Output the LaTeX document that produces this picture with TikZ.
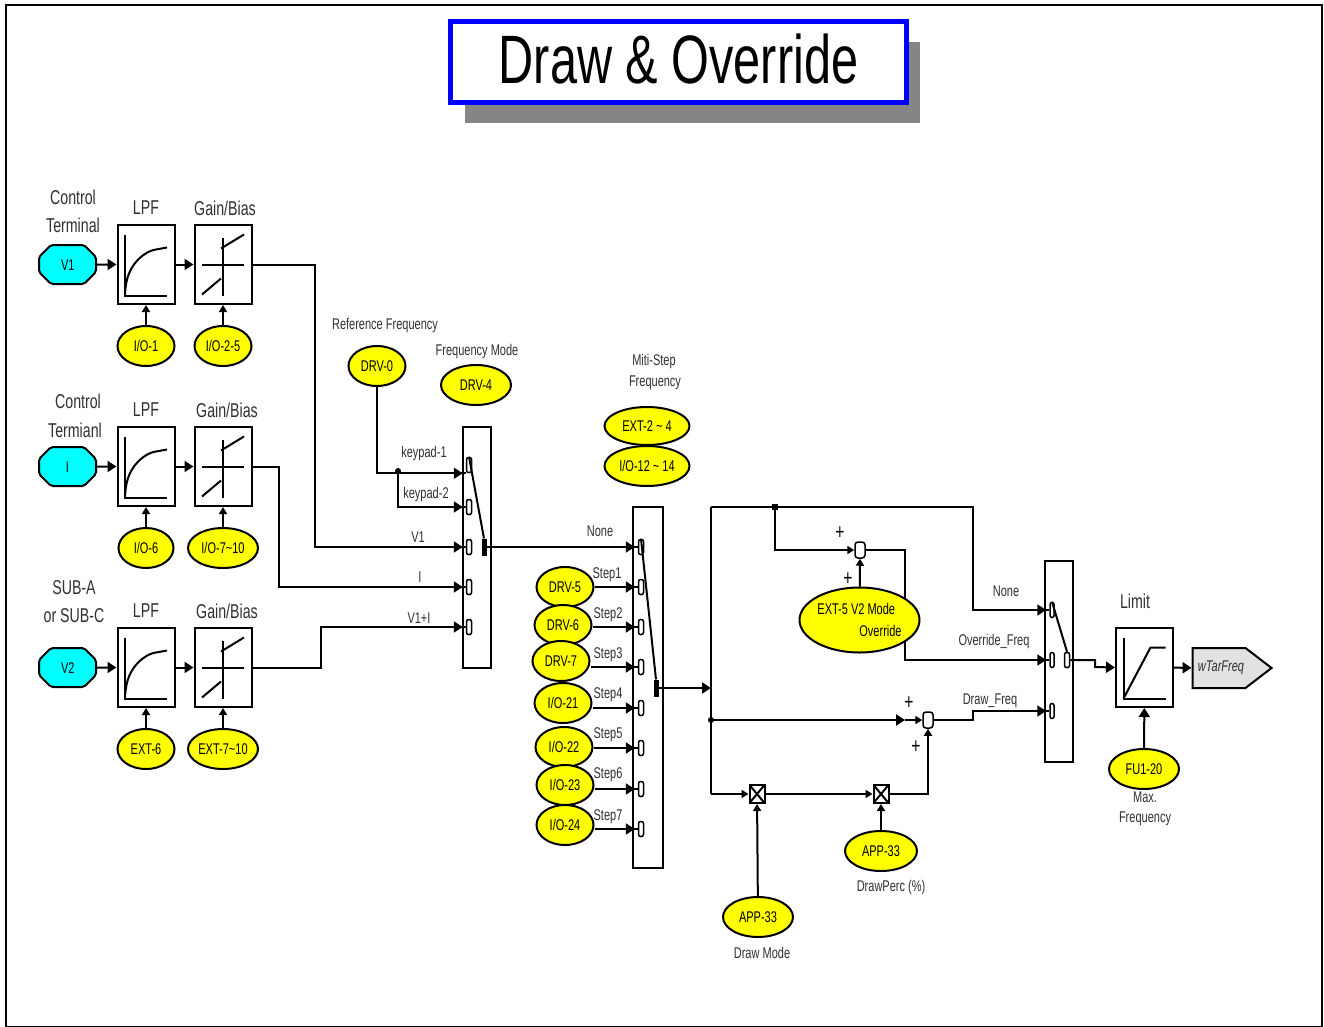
\documentclass[tikz,border=0pt]{standalone}
\usepackage{fontspec}
\setmainfont[FakeStretch=0.71]{Liberation Sans}
\usetikzlibrary{positioning,calc,arrows.meta,shapes.geometric,shapes.misc,shapes.symbols,decorations.markings}
\definecolor{titleBlue}{HTML}{0000FF}
\definecolor{shadowGray}{HTML}{858585}
\definecolor{paramYel}{HTML}{FFFF00}
\definecolor{termCyan}{HTML}{00FFFF}
\definecolor{outGray}{HTML}{E2E2E2}
\definecolor{capGray}{HTML}{303030}

\begin{document}
\begin{tikzpicture}[
    x=1pt, y=-1pt,
    line width=2pt,
    node distance=20pt and 20pt,
    txt/.style={font=\fontsize{15.5}{18}\selectfont},
    caption/.style={text=capGray, inner sep=0pt, font=\fontsize{15.5}{18}\selectfont},
    bigcaption/.style={caption, font=\fontsize{20}{22}\selectfont},
    ctrlbox/.style={rectangle, draw, minimum width=57pt, minimum height=79pt, inner sep=0pt},
    switchbox/.style={rectangle, draw, minimum width=28pt, inner sep=0pt},
    param/.style={ellipse, draw, fill=paramYel, inner sep=0pt, minimum width=57pt,
      minimum height=40pt, txt},
    terminal/.style={chamfered rectangle, chamfered rectangle xsep=8pt, chamfered rectangle ysep=8pt,
      draw, fill=termCyan, rounded corners=2pt, inner sep=0pt, minimum width=57pt, minimum height=39pt,
      text width=13pt, text height=11pt, text depth=0pt, align=center, txt},
    contact/.style={rectangle, draw, fill=white, rounded corners=2pt, inner sep=0pt,
      minimum width=5pt, minimum height=15pt, line width=1.5pt},
    throw/.style={rectangle, draw, fill=black, inner sep=0pt, minimum width=3pt, minimum height=15pt},
    sumnode/.style={rectangle, draw, fill=white, rounded corners=3pt, inner sep=0pt,
      minimum width=10pt, minimum height=16pt, line width=1.5pt},
    mulbox/.style={rectangle, draw, fill=white, inner sep=0pt, minimum width=15pt, minimum height=18pt,
      path picture={\draw (path picture bounding box.north west) -- (path picture bounding box.south east)
        (path picture bounding box.north east) -- (path picture bounding box.south west);}},
    dotnode/.style={circle, fill=black, inner sep=0pt, minimum size=6pt},
    plus/.style={inner sep=0pt, font=\fontsize{22}{22}\selectfont},
    arr/.style={-{Triangle[length=9pt,width=11pt]}},
    arrsmall/.style={-{Triangle[length=7pt,width=8pt]}},
    arrin/.style={postaction={decorate}, decoration={markings,
      mark=at position -3pt with {\arrow{Triangle[length=9pt,width=11pt]}}}},
    arm/.style={line width=2pt},
    lpfcurve/.pic={
      \draw (-21,-30) -- (-21,31) -- (21,31);
      \draw (-21,29) .. controls (-20,16) and (-18,10) .. (-14,3)
        .. controls (-8,-7) and (2,-14) .. (10,-15) -- (21,-17);
    },
    gaincurve/.pic={
      \draw (-21,0) -- (21,0) (0,-27) -- (0,31);
      \draw (-2,-16) -- (21,-30) (-21,30) -- (-2,14);
    },
    limitcurve/.pic={
      \draw (-21,-30) -- (-21,31) -- (21,31);
      \draw (-21,31) -- (6,-20) -- (21,-20);
    },
  ]
\useasboundingbox (0,0) rectangle (1324,1027);

% Frame and title
\node[rectangle, draw, minimum width=1316pt, minimum height=1022pt, inner sep=0pt] (frame) at (664,516) {};
\node[rectangle, fill=shadowGray, minimum width=455pt, minimum height=81pt, inner sep=0pt] (titleshadow) at (692.5,82.5) {};
\node[rectangle, draw=titleBlue, line width=5pt, fill=white, minimum width=456pt, minimum height=81pt,
      inner sep=0pt, font=\fontsize{68.5}{70}\selectfont] (title) at (678.5,62.5) {\raisebox{7pt}{Draw \& Override}};

% Input 1
\node[terminal] (v1) at (67.5,264.5) {V1};
\node[ctrlbox] (lpf1) at (146,264.5) {};
\node[ctrlbox, right=18pt of lpf1] (gain1) {};
\node[param, below=20pt of lpf1] (io1) {I/O-1};
\node[param, below=20pt of gain1] (io25) {I/O-2-5};
\pic at (lpf1) {lpfcurve};
\pic at (gain1) {gaincurve};
\node[bigcaption] (t11) at (73,197) {Control};
\node[bigcaption] (t12) at (73,225) {Terminal};
\node[bigcaption] (l1) at (146,208) {LPF};
\node[bigcaption] (g1) at (225,208) {Gain/Bias};

% Input 2
\node[terminal] (i) at (67.5,466.5) {I};
\node[ctrlbox] (lpf2) at (146,466.5) {};
\node[ctrlbox, right=18pt of lpf2] (gain2) {};
\node[param, below=20pt of lpf2, minimum width=55pt] (io6) {I/O-6};
\node[param, below=20pt of gain2, minimum width=70pt] (io710) {I/O-7\textasciitilde10};
\pic at (lpf2) {lpfcurve};
\pic at (gain2) {gaincurve};
\node[bigcaption] (t21) at (78,401) {Control};
\node[bigcaption] (t22) at (75,430) {Termianl};
\node[bigcaption] (l2) at (146,410) {LPF};
\node[bigcaption] (g2) at (227,410) {Gain/Bias};

% Input 3
\node[terminal] (v2) at (67.5,667.5) {V2};
\node[ctrlbox] (lpf3) at (146,667.5) {};
\node[ctrlbox, right=18pt of lpf3] (gain3) {};
\node[param, below=20pt of lpf3] (ext6) {EXT-6};
\node[param, below=20pt of gain3, minimum width=70pt] (ext710) {EXT-7\textasciitilde10};
\pic at (lpf3) {lpfcurve};
\pic at (gain3) {gaincurve};
\node[bigcaption] (t31) at (74,588) {SUB-A};
\node[bigcaption] (t32) at (74,616) {or SUB-C};
\node[bigcaption] (l3) at (146,611) {LPF};
\node[bigcaption] (g3) at (227,611) {Gain/Bias};

% Frequency mode switch
\node[switchbox, minimum height=241pt] (sw1) at (477,547.5) {};
\foreach \n/\y in {1/465,2/507,3/547,4/587,5/627}
  \node[contact] (c1\n) at (469,\y) {};
\node[throw] (sw1out) at (484,547) {};
\draw[arm] (c11.north) -- (sw1out.north);
\node[param] (drv0) at (377,366) {DRV-0};
\node[param, minimum width=70pt] (drv4) at (476,385) {DRV-4};
\node[dotnode] (keydot) at (398,471) {};
\node[caption] (reflab) at (385,325) {Reference Frequency};
\node[caption] (modelab) at (477,351) {Frequency Mode};
\node[caption] (key1) at (424,453) {keypad-1};
\node[caption] (key2) at (426,494) {keypad-2};
\node[caption] (v1lab) at (418,537) {V1};
\node[caption] (ilab) at (420,577) {I};
\node[caption] (v1ilab) at (419,618) {V1+I};

% Multi-step switch
\node[switchbox, minimum width=30pt, minimum height=361pt] (sw2) at (648,687.5) {};
\foreach \n/\y in {1/547,2/587,3/627,4/667,5/708,6/748,7/789,8/829}
  \node[contact] (c2\n) at (641,\y) {};
\node[throw] (sw2out) at (656,688) {};
\draw[arm] (c21.north) -- (sw2out.north);
\node[param] (drv5) at (565,587) {DRV-5};
\node[param] (drv6) at (563,625) {DRV-6};
\node[param] (drv7) at (561,661) {DRV-7};
\node[param] (io21) at (563,703) {I/O-21};
\node[param] (io22) at (564,747) {I/O-22};
\node[param] (io23) at (565,785) {I/O-23};
\node[param] (io24) at (565,825) {I/O-24};
\node[param, minimum width=85pt, minimum height=38pt] (ext24) at (647,426) {EXT-2 \textasciitilde{} 4};
\node[param, minimum width=85pt] (io1214) at (647,466) {I/O-12 \textasciitilde{} 14};
\node[caption] (mitilab) at (654,361) {Miti-Step};
\node[caption] (freqlab) at (655,383) {Frequency};
\node[caption] (nonelab) at (600,531) {None};
\foreach \n/\x/\y in {1/607/575,2/608/615,3/608/655,4/608/695,5/608/735,6/608/775,7/608/817}
  \node[caption] (step\n) at (\x,\y) {Step\n};

% Draw and override blocks
\coordinate (busT) at (711,507);
\coordinate (busB) at (711,794);
\coordinate (drawtip) at (905,720);
\coordinate (ovrturn) at (905,660);
\node[dotnode, rectangle, minimum size=6pt] (ovrdot) at (775,507) {};
\node[dotnode] (drawdot) at (711,720) {};
\node[sumnode] (sum1) at (860,550) {};
\node[sumnode] (sum2) at (928,720) {};
\node[mulbox] (mul1) at (757,794) {};
\node[mulbox] (mul2) at (881,794) {};
\node[plus] (plus1) at (840,533) {+};
\node[plus] (plus2) at (848,579) {+};
\node[plus] (plus3) at (909,703) {+};
\node[plus] (plus4) at (916,747) {+};

% Output switch
\node[switchbox, minimum height=201pt] (sw3) at (1059,661.5) {};
\foreach \n/\y in {1/610,2/660,3/711}
  \node[contact, minimum width=4pt] (c3\n) at (1052,\y) {};
\node[contact, minimum width=5pt] (sw3out) at (1067,660) {};
\draw[arm] (c31.north) -- (sw3out.north);
\node[caption] (none3) at (1006,591) {None};
\node[caption] (ovrlab) at (994,641) {Override\_Freq};
\node[caption] (drawlab) at (990,701) {Draw\_Freq};

% Limit and output
\node[ctrlbox] (limit) at (1144.5,667.5) {};
\pic at (limit) {limitcurve};
\node[bigcaption] (limlab) at (1135,601) {Limit};
\node[param, minimum width=70pt] (fu120) at (1144,769) {FU1-20};
\node[caption] (maxlab) at (1145,797) {Max.};
\node[caption] (fu1lab) at (1145,819) {Frequency};
\node[signal, signal to=east, signal pointer angle=75, draw, fill=outGray, inner sep=0pt,
      minimum width=79pt, minimum height=40pt, text=capGray, font=\fontsize{15.5}{18}\selectfont\itshape] (wtar) at (1219,668) {\hspace*{4pt}wTarFreq};

% Arrows, inputs
\foreach \t/\l/\g in {v1/lpf1/gain1,i/lpf2/gain2,v2/lpf3/gain3} {
  \draw[arr] (\t) -- (\l);
  \draw[arr] (\l) -- (\g);
}
\draw[arrsmall] (io1) -- (lpf1);
\draw[arrsmall] (io25) -- (gain1);
\draw[arrsmall] (io6) -- (lpf2);
\draw[arrsmall] (io710) -- (gain2);
\draw[arrsmall] (ext6) -- (lpf3);
\draw[arrsmall] (ext710) -- (gain3);

% Arrows, into first switch
\draw[arrin] (gain1.east) -- ++(62,0) |- (c13.west);
\draw[arrin] (gain2.east) -- ++(26,0) |- (c14.west);
\draw[arrin] (gain3.east) -- ++(68,0) |- (c15.west);
\draw[arrin] (drv0.south) |- (c11.south west);
\draw[arrin] (keydot.center) |- (c12.west);

% Arrows, into second switch
\draw[arrin] (sw1out) -- (c21.west);
\draw[arrin] (drv5.east |- c22) -- (c22.west);
\draw[arrin] (drv6.east |- c23) -- (c23.west);
\draw[arrin] (drv7.east |- c24) -- (c24.west);
\draw[arrin] (io21.east |- c25) -- (c25.west);
\draw[arrin] (io22.east |- c26) -- (c26.west);
\draw[arrin] (io23.east |- c27) -- (c27.west);
\draw[arrin] (io24.east |- c28) -- (c28.west);

% Arrows, draw and override paths
\draw[arr] (sw2out) -- (sw2out -| busT);
\draw (busT) -- (busB);
\draw[arrin] (busT) -| ($(c31.west)+(-76,0)$) -- (c31.west);
\draw[arrsmall] (ovrdot.center) |- (sum1);
\draw[arrin] (sum1) -| (ovrturn) -- (c32.west);
\node[param, minimum width=120pt, minimum height=65pt, align=left] (ext5) at (859.5,620)
  {EXT-5 V2 Mode\\[4pt]\hspace*{42pt}Override};
\draw[arrsmall] (ext5) -- (sum1);
\draw[arr] (drawdot.center) -- (drawtip);
\draw[arrsmall] (drawtip) -- (sum2);
\draw[arrin] (sum2) -- ++(45,0) -- ++(0,-9) -- (c33.west);
\draw[arrsmall] (busB) -- (mul1);
\draw[arrsmall] (mul1) -- (mul2);
\draw[arrsmall] (mul2) -| (sum2);
\node[param, minimum width=70pt] (app33a) at (758,917) {APP-33};
\node[param, minimum width=72pt] (app33b) at (881,851) {APP-33};
\node[caption] (drawperc) at (891,887) {DrawPerc (\%)};
\node[caption] (drawmode) at (762,953) {Draw Mode};
\draw[arrsmall] (app33a) -- (mul1);
\draw[arrsmall] (app33b) -- (mul2);

% Arrows, output
\draw[arr] (sw3out) -- ++(28,0) -- ++(0,7) -- (limit.west);
\draw[arr] (limit) -- (wtar);
\draw[arr] (fu120) -- (limit);

\end{tikzpicture}
\end{document}
